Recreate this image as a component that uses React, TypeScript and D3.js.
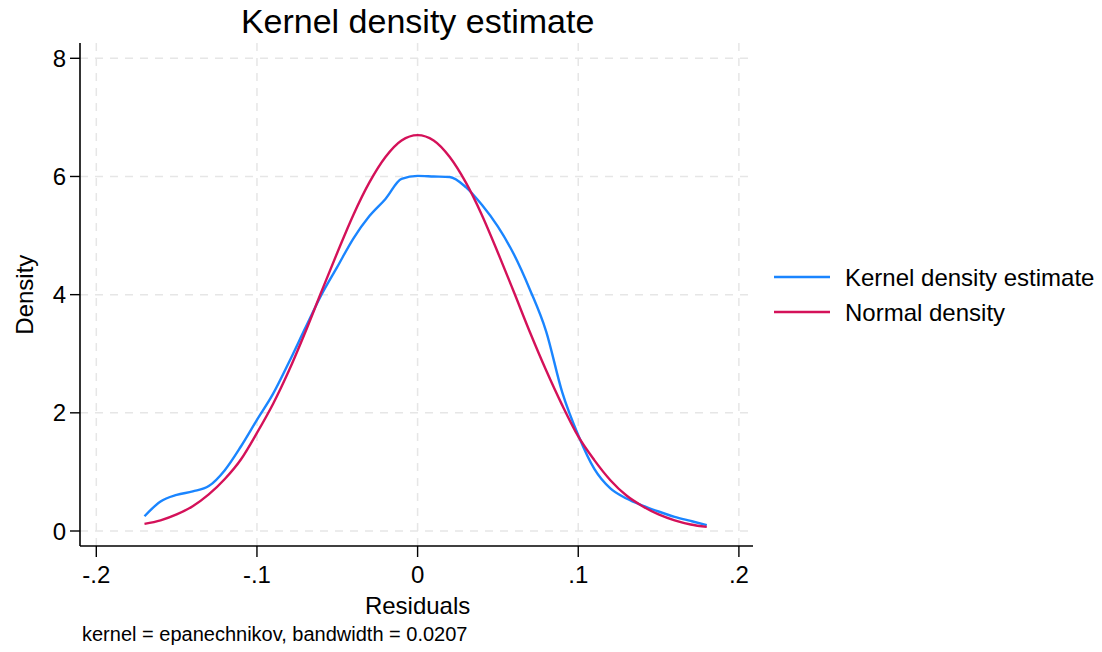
import * as d3 from 'd3'

// grid of residual values used by both curves
const xs = [
  -0.17, -0.16, -0.15, -0.14, -0.13, -0.12, -0.11, -0.1, -0.09, -0.08, -0.07, -0.06,
  -0.05, -0.04, -0.03, -0.02, -0.01, 0, 0.01, 0.02, 0.03, 0.04, 0.05, 0.06, 0.07, 0.08,
  0.09, 0.1, 0.11, 0.12, 0.13, 0.14, 0.15, 0.16, 0.17, 0.18,
]
const kernelDensity = [
  0.25, 0.5, 0.61, 0.67, 0.76, 1.03, 1.43, 1.88, 2.32, 2.86, 3.43, 3.99,
  4.47, 4.95, 5.33, 5.62, 5.96, 6.01, 6.0, 5.99, 5.82, 5.52, 5.15, 4.68, 4.08, 3.38,
  2.35, 1.62, 1.05, 0.72, 0.55, 0.43, 0.33, 0.24, 0.17, 0.1,
]
const normalDensity = [
  0.12, 0.18, 0.28, 0.42, 0.62, 0.88, 1.21, 1.66, 2.15, 2.72, 3.36, 4.04,
  4.71, 5.35, 5.9, 6.33, 6.61, 6.7, 6.61, 6.33, 5.9, 5.35, 4.71, 4.04, 3.36, 2.72,
  2.13, 1.6, 1.2, 0.86, 0.6, 0.42, 0.28, 0.18, 0.11, 0.07,
]
const xTicks = [-0.2, -0.1, 0, 0.1, 0.2]
const xTickLabels = ['-.2', '-.1', '0', '.1', '.2']
const yTicks = [0, 2, 4, 6, 8]
const seriesNames = ['Kernel density estimate', 'Normal density']
const seriesColors = ['#1a85ff', '#d41159']

const W = 1102
const H = 652
const plot = { left: 80, right: 753, top: 43, bottom: 546 }
const font = '"Liberation Sans", Arial, sans-serif'

export default function App() {
  const x = d3.scaleLinear().domain([-0.2, 0.2]).range([96.3, 738.9])
  const y = d3.scaleLinear().domain([0, 8]).range([531, 58.3])

  const line = d3
    .line<[number, number]>()
    .x(d => x(d[0]))
    .y(d => y(d[1]))
    .curve(d3.curveMonotoneX)

  const series = [kernelDensity, normalDensity].map(vals =>
    xs.map((v, i) => [v, vals[i]] as [number, number])
  )

  return (
    <svg
      width={W}
      height={H}
      style={{ position: 'absolute', left: 0, top: 0, background: '#fff' }}
      fontFamily={font}
    >
      {/* grid */}
      {xTicks.map(t => (
        <line
          key={'gx' + t}
          x1={x(t)}
          x2={x(t)}
          y1={plot.top}
          y2={plot.bottom}
          stroke="#e6e6e6"
          strokeWidth={1.5}
          strokeDasharray="8 7"
        />
      ))}
      {yTicks.map(t => (
        <line
          key={'gy' + t}
          x1={plot.left}
          x2={plot.right}
          y1={y(t)}
          y2={y(t)}
          stroke="#e6e6e6"
          strokeWidth={1.5}
          strokeDasharray="8 7"
        />
      ))}

      {/* curves */}
      {series.map((s, i) => (
        <path
          key={seriesNames[i]}
          d={line(s) ?? ''}
          fill="none"
          stroke={seriesColors[i]}
          strokeWidth={2.4}
          strokeLinejoin="round"
        />
      ))}

      {/* axes */}
      <line x1={plot.left} x2={plot.left} y1={plot.top} y2={plot.bottom} stroke="#000" strokeWidth={1.6} />
      <line x1={plot.left} x2={plot.right} y1={plot.bottom} y2={plot.bottom} stroke="#000" strokeWidth={1.6} />
      {yTicks.map(t => (
        <g key={'ty' + t}>
          <line x1={plot.left - 10} x2={plot.left} y1={y(t)} y2={y(t)} stroke="#000" strokeWidth={1.4} />
          <text x={plot.left - 14} y={y(t)} dy="0.36em" textAnchor="end" fontSize={24}>
            {t}
          </text>
        </g>
      ))}
      {xTicks.map((t, i) => (
        <g key={'tx' + t}>
          <line x1={x(t)} x2={x(t)} y1={plot.bottom} y2={plot.bottom + 11} stroke="#000" strokeWidth={1.4} />
          <text x={x(t)} y={583} textAnchor="middle" fontSize={24}>
            {xTickLabels[i]}
          </text>
        </g>
      ))}

      {/* titles */}
      <text x={x(0)} y={33} textAnchor="middle" fontSize={34}>
        Kernel density estimate
      </text>
      <text x={x(0)} y={614} textAnchor="middle" fontSize={24}>
        Residuals
      </text>
      <text transform={`translate(33,${y(4)}) rotate(-90)`} textAnchor="middle" fontSize={24}>
        Density
      </text>
      <text x={82} y={641} fontSize={20}>
        kernel = epanechnikov, bandwidth = 0.0207
      </text>

      {/* legend */}
      {seriesNames.map((name, i) => (
        <g key={'lg' + name} transform={`translate(774,${277 + i * 35})`}>
          <line x1={0} x2={56} y1={0} y2={0} stroke={seriesColors[i]} strokeWidth={2.4} />
          <text x={71} y={0} dy="0.36em" fontSize={24}>
            {name}
          </text>
        </g>
      ))}
    </svg>
  )
}
